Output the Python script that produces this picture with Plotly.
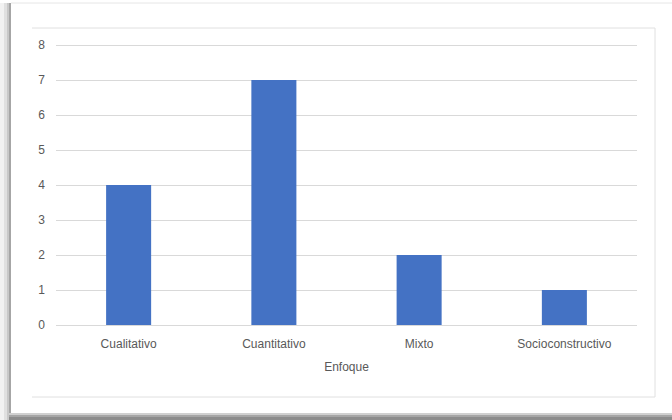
import plotly.graph_objects as go

categorias = ["Cualitativo", "Cuantitativo", "Mixto", "Socioconstructivo"]
valores = [4, 7, 2, 1]
y_ticks = [0, 1, 2, 3, 4, 5, 6, 7, 8]
x_title = "Enfoque"

W, H = 672, 420
L, R, T, B = 56, 35, 44, 95
pw, ph = W - L - R, H - T - B


def px(x):
    return (x - L) / pw


def py(y):
    return (H - B - y) / ph


fig = go.Figure(go.Bar(x=categorias, y=valores, marker_color="#4472C4",
                       marker_line_width=0))

shapes = []
# shadow on the left and bottom
for x0, x1, c in [(0, 4, "#f2f2f2"), (4, 7, "#e0e0e0"), (7, 9, "#c8c8c8"), (9, 11, "#a6a6a6")]:
    shapes.append(dict(type="rect", xref="paper", yref="paper", x0=px(x0), x1=px(x1),
                       y0=py(420), y1=py(3), fillcolor=c, line_width=0, layer="below"))
for y0, y1, c in [(413, 415, "#d0d0d0"), (415, 417, "#a6a6a6"), (417, 420, "#8c8c8c")]:
    shapes.append(dict(type="rect", xref="paper", yref="paper", x0=px(9), x1=px(672),
                       y0=py(y1), y1=py(y0), fillcolor=c, line_width=0, layer="below"))
# outer top line
shapes.append(dict(type="line", xref="paper", yref="paper", x0=px(11), x1=px(672),
                   y0=py(3), y1=py(3), line=dict(color="#e6e6e6", width=1)))
# inner frame lines
shapes.append(dict(type="line", xref="paper", yref="paper", x0=px(32), x1=px(655),
                   y0=py(28), y1=py(28), line=dict(color="#e0e0e0", width=1)))
shapes.append(dict(type="line", xref="paper", yref="paper", x0=px(655), x1=px(655),
                   y0=py(28), y1=py(397), line=dict(color="#e0e0e0", width=1)))
shapes.append(dict(type="line", xref="paper", yref="paper", x0=px(32), x1=px(655),
                   y0=py(397), y1=py(397), line=dict(color="#e0e0e0", width=1)))

fig.update_layout(
    width=W, height=H,
    margin=dict(l=L, r=R, t=T, b=B),
    paper_bgcolor="white", plot_bgcolor="white",
    bargap=0.69,
    showlegend=False,
    font=dict(family="Liberation Sans, Arial, sans-serif", size=12, color="#595959"),
    shapes=shapes,
    xaxis=dict(showgrid=False, showline=False, ticks="", tickfont=dict(size=12),
               ticklabelstandoff=10,
               title=dict(text=x_title, font=dict(size=12), standoff=12)),
    yaxis=dict(range=[0, 8.03], tickvals=y_ticks, showgrid=True, gridcolor="#d9d9d9",
               gridwidth=1, zeroline=True, zerolinecolor="#d9d9d9", zerolinewidth=1,
               ticks="", ticklabelstandoff=10, tickfont=dict(size=12)),
)

fig.write_html("out.html")
